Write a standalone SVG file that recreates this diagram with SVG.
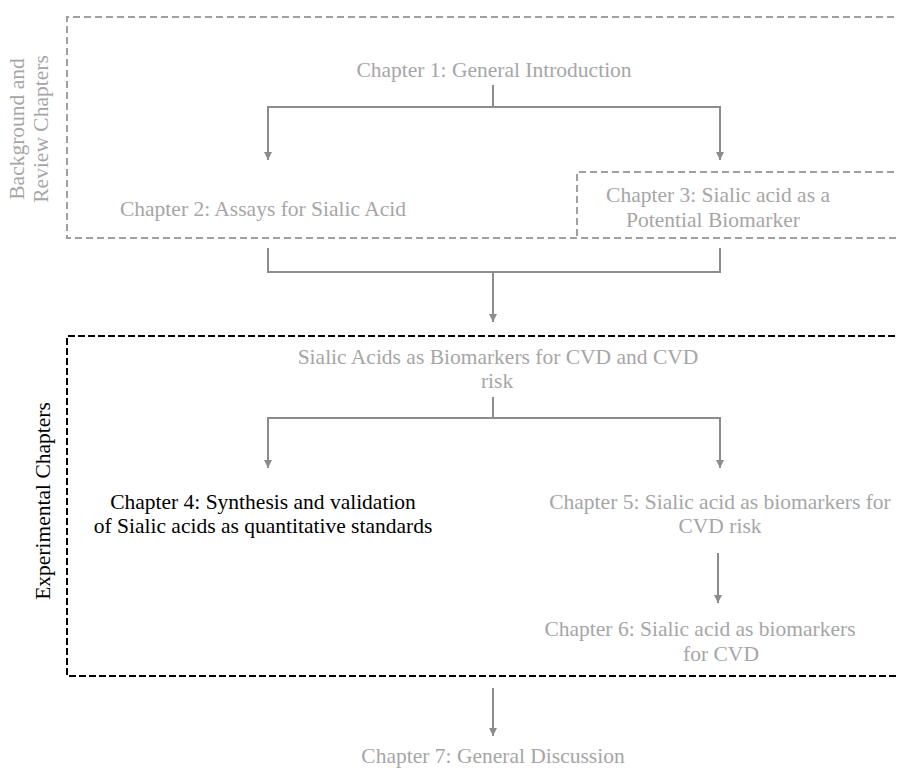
<svg xmlns="http://www.w3.org/2000/svg" width="897" height="769" viewBox="0 0 897 769">
<style>
text{font-family:'Liberation Serif','Times New Roman',Tinos,'DejaVu Serif',serif;font-size:21.5px;fill:#a6a6a6;text-anchor:middle}
.blk{fill:#000}
.con{fill:none;stroke:#8c8c8c;stroke-width:2}
.gbox{fill:none;stroke:#a0a0a0;stroke-width:2;stroke-dasharray:7 4}
.kbox{fill:none;stroke:#000;stroke-width:2;stroke-dasharray:7 3}
.ah{fill:#8c8c8c}
</style>
<rect width="897" height="769" fill="#fff"/>
<g id="group-background">
<path class="gbox" d="M905,17 H67 V238 H905"/>
<text transform="translate(24,129) rotate(-90)">Background and</text>
<text transform="translate(48,129) rotate(-90)">Review Chapters</text>
</g>
<g id="group-experimental">
<path class="kbox" d="M905,336 H67 V676 H905"/>
<text class="blk" transform="translate(50,501) rotate(-90)">Experimental Chapters</text>
</g>
<g id="ch1"><text x="494" y="77">Chapter 1: General Introduction</text></g>
<g id="ch2"><text x="263" y="216">Chapter 2: Assays for Sialic Acid</text></g>
<g id="ch3">
<path class="gbox" d="M905,172 H577 V238"/>
<text x="718" y="202">Chapter 3: Sialic acid as a</text>
<text x="713" y="227">Potential Biomarker</text>
</g>
<g id="sialic"><text x="498" y="364">Sialic Acids as Biomarkers for CVD and CVD</text><text x="497" y="388">risk</text></g>
<g id="ch4"><text class="blk" x="263" y="509">Chapter 4: Synthesis and validation</text><text class="blk" x="263" y="533">of Sialic acids as quantitative standards</text></g>
<g id="ch5"><text x="720" y="509">Chapter 5: Sialic acid as biomarkers for</text><text x="720" y="533">CVD risk</text></g>
<g id="ch6"><text x="700" y="636">Chapter 6: Sialic acid as biomarkers</text><text x="721" y="661">for CVD</text></g>
<g id="ch7"><text x="493" y="763">Chapter 7: General Discussion</text></g>
<g id="connectors">
<path class="con" d="M493,85 V107"/>
<path class="con" d="M493,107 H268 V160"/>
<path class="con" d="M493,107 H720 V160"/>
<path class="ah" d="M264,152 L272,152 L268,160 Z"/>
<path class="ah" d="M716,152 L724,152 L720,160 Z"/>
<path class="con" d="M268,248 V272 H720 V248"/>
<path class="con" d="M493,272 V322"/>
<path class="ah" d="M489,314 L497,314 L493,322 Z"/>
<path class="con" d="M493,397 V418"/>
<path class="con" d="M493,418 H268 V468"/>
<path class="con" d="M493,418 H720 V468"/>
<path class="ah" d="M264,460 L272,460 L268,468 Z"/>
<path class="ah" d="M716,460 L724,460 L720,468 Z"/>
<path class="con" d="M718,553 V603"/>
<path class="ah" d="M714,595 L722,595 L718,603 Z"/>
<path class="con" d="M493,688 V736"/>
<path class="ah" d="M489,728 L497,728 L493,736 Z"/>
</g>
</svg>
